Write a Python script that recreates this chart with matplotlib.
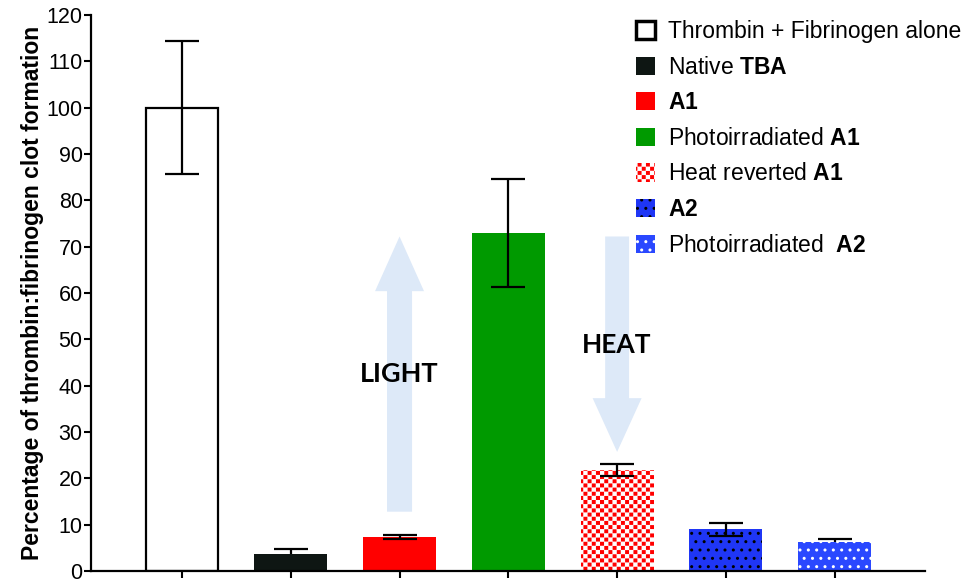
import warnings
import numpy as np
import matplotlib
matplotlib.use('Agg')
import matplotlib.pyplot as plt
import matplotlib.hatch as mhatch
from matplotlib.path import Path
from matplotlib.patches import Patch

warnings.filterwarnings('ignore')

# data
labels = ['Thrombin + Fibrinogen alone', r'Native $\mathbf{TBA}$', r'$\mathbf{A1}$',
          r'Photoirradiated $\mathbf{A1}$', r'Heat reverted $\mathbf{A1}$',
          r'$\mathbf{A2}$', r'Photoirradiated  $\mathbf{A2}$']
values = [100, 3.7, 7.3, 73, 21.8, 9.0, 6.3]
errors = [14.3, 1.1, 0.5, 11.7, 1.3, 1.35, 0.7]
err_front = [True, False, True, True, True, True, False]

faces = ['white', '#0e1613', '#ff0000', '#009a00', '#ff0000', '#1f36f5', '#2a48ff']
edges = ['black', '#0e1613', '#ff0000', '#009a00', 'white', 'black', 'white']
lws = [1.6, 0, 0, 0, 0, 0, 0]
hatches = [None, None, None, None, 'cc', '..', '..']


# checkerboard hatch ('c'), not built into matplotlib
class Checker(mhatch.HatchPatternBase):
    def __init__(self, hatch, density):
        self.n = hatch.count('c') * density
        self.num_vertices = self.n * self.n * 10

    def set_vertices_and_codes(self, vertices, codes):
        s = 1.0 / self.n
        h = s / 2 - 0.012
        sq = np.array([[0, 0], [h, 0], [h, h], [0, h], [0, 0]])
        cc = [Path.MOVETO, Path.LINETO, Path.LINETO, Path.LINETO, Path.CLOSEPOLY]
        k = 0
        for i in range(self.n):
            for j in range(self.n):
                for dx, dy in ((0.006, 0.006), (s / 2 + 0.006, s / 2 + 0.006)):
                    vertices[k:k + 5] = sq + [i * s + dx, j * s + dy]
                    codes[k:k + 5] = cc
                    k += 5


mhatch._hatch_types.append(Checker)

plt.rcParams['font.family'] = ['Liberation Sans', 'DejaVu Sans']
plt.rcParams['mathtext.fontset'] = 'custom'
plt.rcParams['mathtext.rm'] = 'Liberation Sans'
plt.rcParams['mathtext.bf'] = 'Liberation Sans:bold'
plt.rcParams['hatch.linewidth'] = 1.0

fig = plt.figure(figsize=(9.72, 5.82), dpi=100)
ax = fig.add_axes([91 / 972, 11 / 582, (925 - 91) / 972, (571 - 15) / 582])

x = np.arange(len(values))
arrow_col = '#dde9f8'
ax.arrow(2, 12.8, 0, 72.2 - 12.8, width=0.23, head_width=0.45, head_length=11.8,
         length_includes_head=True, color=arrow_col, lw=0, zorder=1)
ax.arrow(4, 72.2, 0, 25.7 - 72.2, width=0.22, head_width=0.45, head_length=11.6,
         length_includes_head=True, color=arrow_col, lw=0, zorder=1)
ax.text(2, 42.5, 'LIGHT', family='Lato', weight='bold', fontsize=19.5,
        ha='center', va='center', zorder=4)
ax.text(4, 48.8, 'HEAT', family='Lato', weight='bold', fontsize=19,
        ha='center', va='center', zorder=4)

for i in range(len(values)):
    ax.bar(x[i], values[i], width=0.67, color=faces[i], edgecolor=edges[i],
           linewidth=lws[i], hatch=hatches[i], zorder=2)
    ax.errorbar(x[i], values[i], yerr=errors[i], fmt='none', ecolor='black',
                elinewidth=1.6, capsize=12.5, capthick=1.6,
                zorder=3 if err_front[i] else 1.5)

ax.set_xlim(-0.836, 6.83)
ax.set_ylim(0, 120)
ax.set_yticks(np.arange(0, 121, 10))
ax.set_xticks(x)
ax.set_xticklabels([])
ax.tick_params(axis='both', direction='out', length=5, width=1.5, labelsize=15.5, pad=1)
ax.spines['top'].set_visible(False)
ax.spines['right'].set_visible(False)
ax.spines['left'].set_linewidth(1.6)
ax.spines['bottom'].set_linewidth(1.6)
ax.set_ylabel('Percentage of thrombin:fibrinogen clot formation', fontsize=16.5,
              weight='bold', labelpad=2)

handles = [Patch(facecolor=faces[i], edgecolor=edges[i], hatch=hatches[i],
                 linewidth=2.5 if i == 0 else 0) for i in range(len(values))]
fig.legend(handles, labels, loc='upper left', bbox_to_anchor=(636 / 972, 1 - 20 / 582),
           bbox_transform=fig.transFigure, frameon=False, fontsize=16.5,
           handlelength=0.85, handleheight=0.85, handletextpad=0.55,
           labelspacing=0.55, borderpad=0, borderaxespad=0)

fig.savefig('out.png', dpi=100)
